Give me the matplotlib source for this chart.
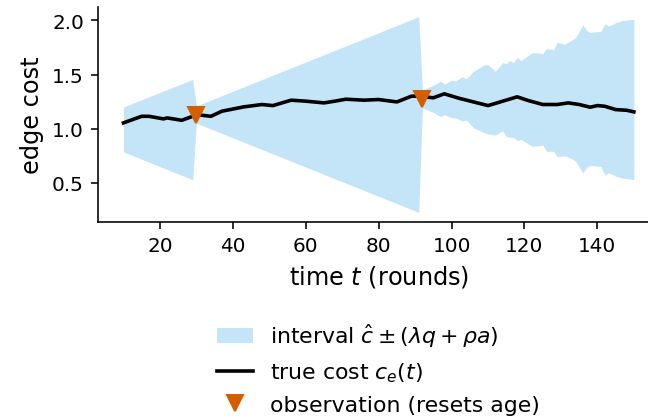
import matplotlib
matplotlib.use("Agg")
import matplotlib.pyplot as plt
import numpy as np

# true cost c_e(t)
t_cost = [10, 15, 17, 21, 22, 26, 29, 30, 34, 37, 43, 48, 51, 56, 60, 65, 68, 71, 76, 80,
          85, 89, 91, 95, 98, 102, 110, 118, 121, 125, 129, 132, 135, 138, 140, 142, 145, 148, 150]
cost = [1.053, 1.114, 1.114, 1.090, 1.099, 1.077, 1.114, 1.130, 1.114, 1.161, 1.201, 1.223,
        1.213, 1.263, 1.254, 1.238, 1.254, 1.272, 1.263, 1.269, 1.247, 1.300, 1.300, 1.285,
        1.322, 1.281, 1.213, 1.294, 1.260, 1.223, 1.223, 1.238, 1.223, 1.198, 1.213, 1.207,
        1.176, 1.170, 1.155]

# interval bounds
t_band = [10, 29, 30, 91,
          92, 95, 97, 98, 100, 101, 103, 104, 106, 109, 110, 112, 114, 115, 116, 117, 118, 119,
          122, 124, 125, 126, 128, 129, 131, 133, 134, 136, 137, 138, 141, 142, 143, 144, 145,
          147, 150]
band_upper = [1.20, 1.455, 1.21, 2.035,
              1.36, 1.40, 1.44, 1.41, 1.45, 1.44, 1.48, 1.46, 1.53, 1.59, 1.59, 1.53, 1.61, 1.60,
              1.63, 1.61, 1.66, 1.63, 1.70, 1.70, 1.69, 1.74, 1.73, 1.80, 1.78, 1.82, 1.84, 1.96,
              1.91, 1.89, 1.90, 1.97, 1.95, 1.96, 1.98, 2.00, 2.01]
band_lower = [0.785, 0.527, 1.05, 0.225,
              1.19, 1.15, 1.11, 1.13, 1.10, 1.10, 1.07, 1.08, 1.01, 0.96, 0.95, 0.94, 0.98, 0.93,
              0.92, 0.92, 0.89, 0.90, 0.84, 0.84, 0.85, 0.79, 0.79, 0.74, 0.75, 0.72, 0.70, 0.59,
              0.64, 0.66, 0.65, 0.57, 0.59, 0.58, 0.56, 0.54, 0.53]

# observations
t_obs = [30, 92]
obs_val = [1.125, 1.27]

fig = plt.figure(figsize=(4.5, 2.9), dpi=144)
ax = fig.add_axes([97.9 / 648, 194.5 / 417, 561.5 / 648, 215 / 417])

ax.fill_between(t_band, band_lower, band_upper, color="#56B4E9", alpha=0.35, linewidth=0,
                label=r"interval $\hat{c} \pm (\lambda q + \rho a)$")
ax.plot(t_cost, cost, color="black", lw=1.8, label=r"true cost $c_e(t)$")
ax.plot(t_obs, obs_val, linestyle="none", marker="v", ms=8, color="#D55E00",
        label="observation (resets age)")

ax.set_xticks([20, 40, 60, 80, 100, 120, 140])
ax.set_yticks([0.5, 1.0, 1.5, 2.0])
ax.tick_params(labelsize=10)
ax.set_xlabel(r"time $t$ (rounds)", fontsize=12)
ax.set_ylabel("edge cost", fontsize=12)
ax.spines["top"].set_visible(False)
ax.spines["right"].set_visible(False)

ax.legend(loc="upper center", bbox_to_anchor=(0.5, -0.37), frameon=False, fontsize=11,
          handlelength=1.6)

fig.savefig("out.png", dpi=144)
